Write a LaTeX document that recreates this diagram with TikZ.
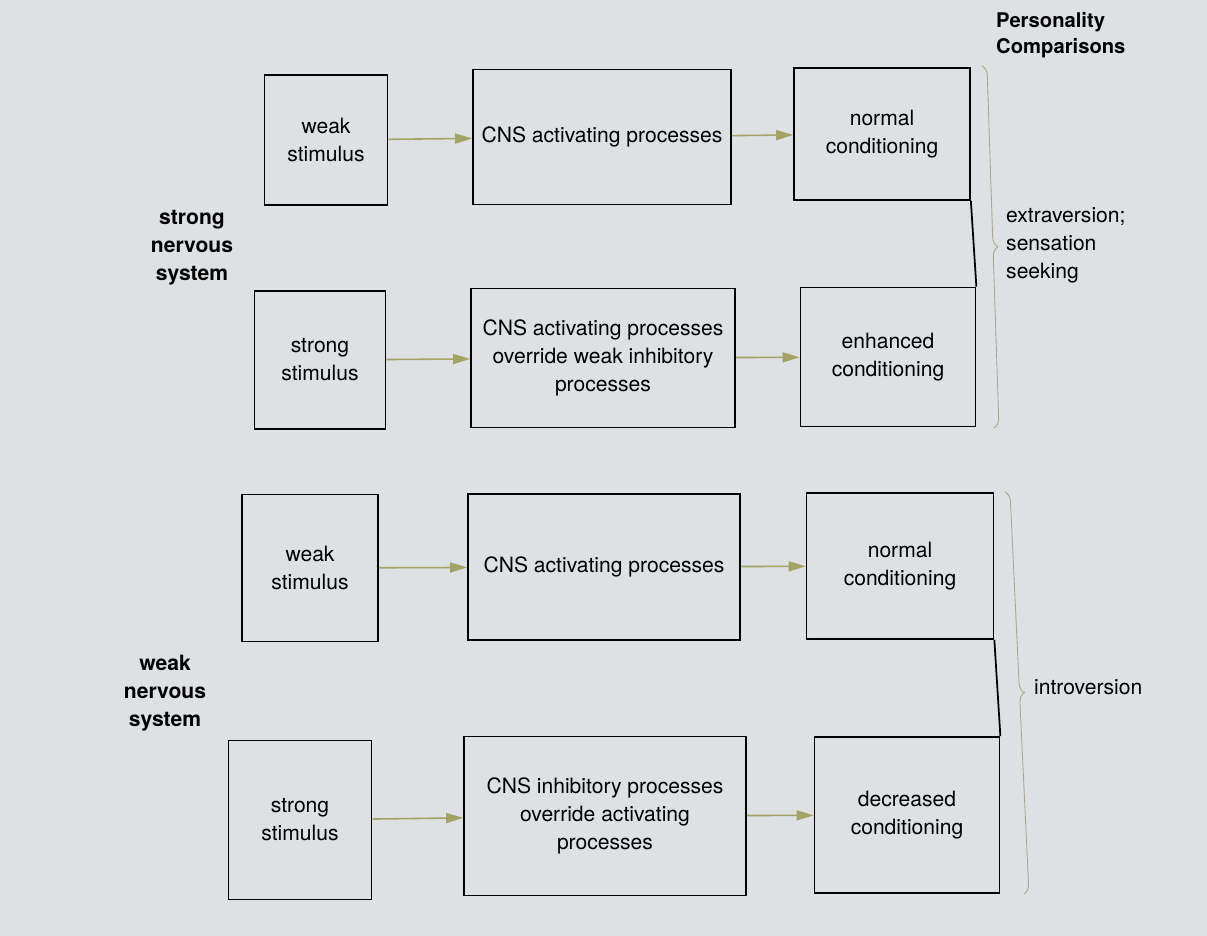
\documentclass[tikz,border=0pt]{standalone}
\usepackage{fontspec}
\setmainfont{TeX Gyre Heros}
\usepackage{xcolor}
\usetikzlibrary{arrows.meta, positioning, decorations.pathreplacing}

\definecolor{paper}{RGB}{221,225,227}
\definecolor{olive}{RGB}{164,162,100}
\definecolor{bracecol}{RGB}{172,166,134}

\begin{document}
\begin{tikzpicture}[x=0.02cm, y=-0.02cm,
        box/.style={draw, line width=1pt, rectangle, align=center, inner sep=2pt, font=\fontsize{12}{16}\selectfont},
        arrow/.style={line width=0.9pt, draw=olive, -{Triangle[length=0.34cm, width=0.2cm, fill=olive]}},
        link/.style={line width=1pt},
        brc/.style={draw=bracecol, line width=0.5pt, decorate, decoration={brace, amplitude=0.2cm}},
        grp/.style={align=center, font=\fontsize{12}{16}\selectfont\bfseries},
        trait/.style={align=left, anchor=west, font=\fontsize{12}{16}\selectfont}
    ]
        % page and frame
        \fill[paper] (0,0) rectangle (1207,936);
        \useasboundingbox (0,0) rectangle (1207,936);

        \node (head) [anchor=north west, align=left, font=\fontsize{11.5}{15}\selectfont\bfseries] at (990,6) {Personality\\Comparisons};

        % strong nervous system
        \node (stim1) [box, minimum width=2.46cm, minimum height=2.60cm] at (326,140) {weak\\stimulus};
        \node (proc1) [box, minimum width=5.16cm, minimum height=2.70cm] at (602,137) {CNS activating processes};
        \node (cond1) [box, minimum width=3.52cm, minimum height=2.64cm] at (882,134) {normal\\conditioning};
        \node (stim2) [box, minimum width=2.62cm, minimum height=2.76cm] at (320,360) {strong\\stimulus};
        \node (proc2) [box, minimum width=5.28cm, minimum height=2.78cm] at (603,358) {CNS activating processes\\override weak inhibitory\\processes};
        \node (cond2) [box, minimum width=3.50cm, minimum height=2.78cm] at (888,357) {enhanced\\conditioning};
        \node (strongns) [grp] at (192,248) {strong\\nervous\\system};

        % weak nervous system
        \node (stim3) [box, minimum width=2.72cm, minimum height=2.94cm] at (310,568) {weak\\stimulus};
        \node (proc3) [box, minimum width=5.44cm, minimum height=2.92cm] at (604,567) {CNS activating processes};
        \node (cond3) [box, minimum width=3.74cm, minimum height=2.92cm] at (900,566) {normal\\conditioning};
        \node (stim4) [box, minimum width=2.86cm, minimum height=3.18cm] at (300,820) {strong\\stimulus};
        \node (proc4) [box, minimum width=5.64cm, minimum height=3.18cm] at (605,816) {CNS inhibitory processes\\override activating\\processes};
        \node (cond4) [box, minimum width=3.70cm, minimum height=3.12cm] at (907,815) {decreased\\conditioning};
        \node (weakns) [grp] at (165,693) {weak\\nervous\\system};

        % arrows
        \foreach \i in {1,...,4} {
            \draw [arrow] (stim\i) -- (proc\i);
            \draw [arrow] (proc\i) -- (cond\i);
        }
        \draw [link] (cond1.south east) -- (cond2.north east);
        \draw [link] (cond3.south east) -- (cond4.north east);

        % braces
        \coordinate (b1top) at (982,66);
        \coordinate (b1bot) at (994,428);
        \coordinate (b2top) at (1005,492);
        \coordinate (b2bot) at (1024,894);
        \draw [brc] (b1top) -- (b1bot);
        \draw [brc] (b2top) -- (b2bot);
        \node (extra) [trait] at (1000,245) {extraversion;\\sensation\\seeking};
        \node (intro) [trait] at (1028,687) {introversion};
    \end{tikzpicture}
\end{document}
